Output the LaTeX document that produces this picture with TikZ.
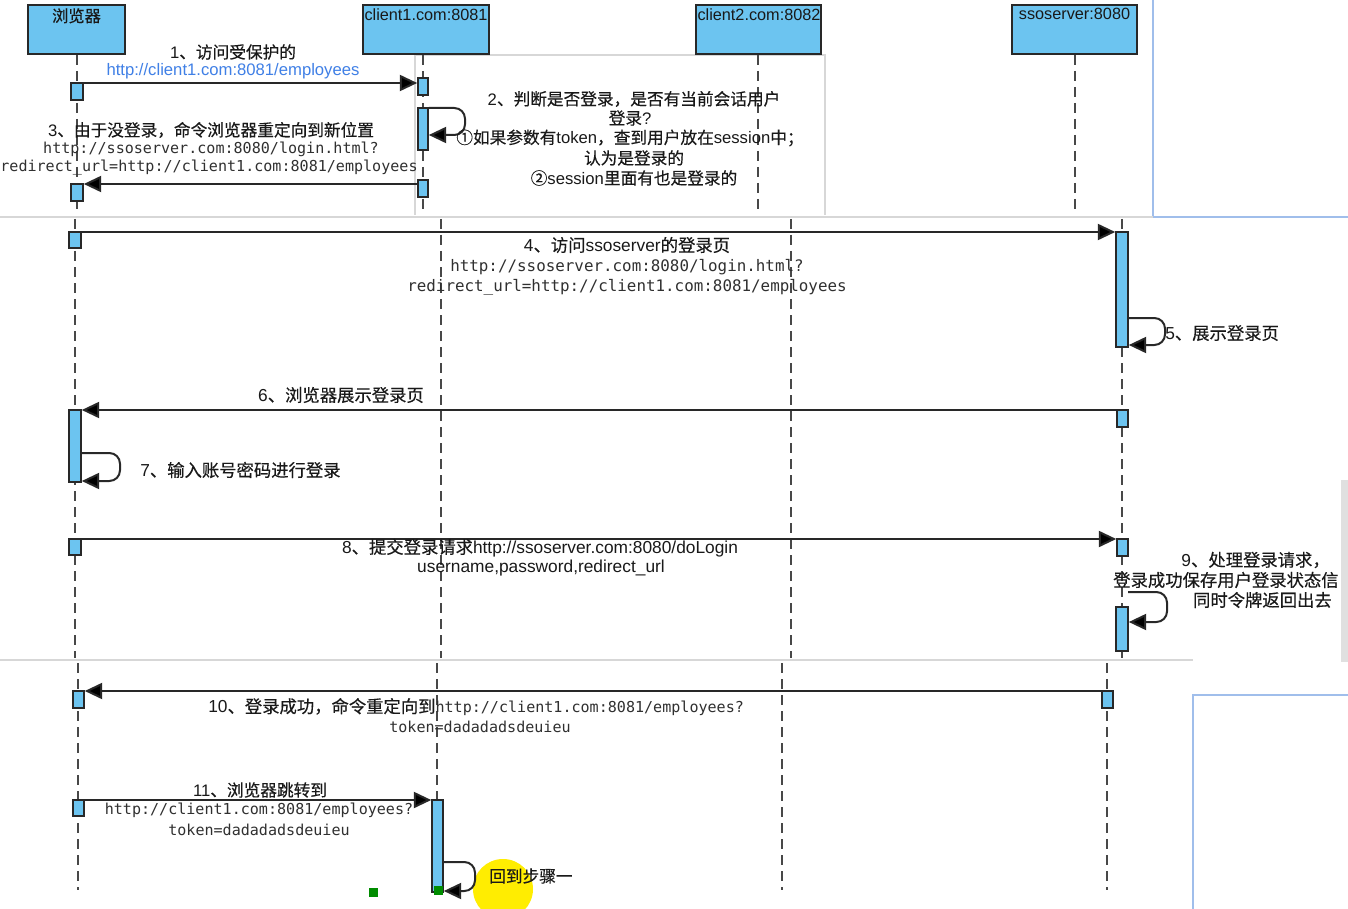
\documentclass[tikz,border=0pt]{standalone}
\usepackage{fontspec}
\setmainfont{Liberation Sans}
\newfontfamily\cjk[FakeBold=0.35]{Noto Sans CJK SC}
\newfontfamily\mono{DejaVu Sans Mono}
\usetikzlibrary{arrows.meta,fit}
\definecolor{lb}{RGB}{108,196,240}
\definecolor{ln}{RGB}{40,40,40}
\definecolor{tx}{RGB}{25,25,25}
\definecolor{urlc}{RGB}{64,128,230}
\definecolor{framec}{RGB}{160,190,235}
\definecolor{shadec}{RGB}{215,215,215}
\begin{document}
\begin{tikzpicture}[x=0.75pt,y=-0.75pt,
  head/.style={draw=ln,line width=1.5pt,fill=lb,inner sep=0pt},
  act/.style={draw=ln,line width=1.2pt,fill=lb,inner sep=0pt},
  life/.style={draw=ln!85,line width=1.2pt,dash pattern=on 7.5pt off 4.5pt},
  msg/.style={draw=ln,line width=1.5pt,-{Triangle[length=13pt,width=12pt,fill=black]}},
  loopm/.style={msg,rounded corners=8pt},
  htxt/.style={font=\fontsize{12.2}{14}\selectfont,text=tx,inner sep=0pt,anchor=north},
  lab/.style={font=\fontsize{12.5}{15}\selectfont,text=tx,inner sep=0pt},
  labb/.style={font=\fontsize{13}{15}\selectfont,text=tx,inner sep=0pt},
  mlab/.style={font=\mono\fontsize{11.3}{14}\selectfont,text=tx!90,inner sep=0pt},
  mlabb/.style={font=\mono\fontsize{11.9}{14}\selectfont,text=tx!90,inner sep=0pt},
]
\useasboundingbox (0,0) rectangle (1348,909);
\fill[white] (0,0) rectangle (1348,909);

% ---------- screenshot panel edges ----------
\draw[shadec,line width=1.5pt] (415,215) -- (415,55) -- (825,55) -- (825,215);
\draw[framec,line width=1.2pt] (1153,0) -- (1153,217) -- (1348,217);
\draw[shadec,line width=2pt] (0,217) -- (1153,217);
\fill[black!12] (1341,480) rectangle (1348,662);
\draw[shadec,line width=2pt] (0,660) -- (1193,660);
\draw[framec,line width=1.2pt] (1193,909) -- (1193,695) -- (1348,695);

% ---------- header boxes ----------
\node[head, fit={(28,5) (125,54)}] (hb) {};
\node[head, fit={(363,5) (489,54)}] (hc1) {};
\node[head, fit={(696,5) (821,54)}] (hc2) {};
\node[head, fit={(1012,5) (1137,54)}] (hs) {};
\node[htxt] (hbt) at (76.5,8) {\cjk 浏览器};
\node[htxt] (hc1t) at (426,8) {client1.com:8081};
\node[htxt] (hc2t) at (759,8) {client2.com:8082};
\node[htxt] (hst) at (1074.5,8) {ssoserver:8080};

% ---------- lifelines ----------
% panel 1
\coordinate (pb1) at (77,215);  \coordinate (pc11) at (423,215);
\coordinate (pc21) at (758,215); \coordinate (ps1) at (1075,215);
\draw[life] (hb.south -| pb1) -- (pb1);
\draw[life] (hc1.south -| pc11) -- (pc11);
\draw[life] (hc2.south -| pc21) -- (pc21);
\draw[life] (hs.south -| ps1) -- (ps1);
% panel 2
\coordinate (qb0) at (75,219);  \coordinate (qb1) at (75,658);
\coordinate (qc10) at (441,219); \coordinate (qc11) at (441,658);
\coordinate (qc20) at (791,219); \coordinate (qc21) at (791,658);
\coordinate (qs0) at (1122,219); \coordinate (qs1) at (1122,658);
\draw[life] (qb0) -- (qb1);
\draw[life] (qc10) -- (qc11);
\draw[life] (qc20) -- (qc21);
\draw[life] (qs0) -- (qs1);
% panel 3
\coordinate (rb0) at (78,663);  \coordinate (rb1) at (78,890);
\coordinate (rc10) at (437,663); \coordinate (rc11) at (437,890);
\coordinate (rc20) at (782,663); \coordinate (rc21) at (782,890);
\coordinate (rs0) at (1107,663); \coordinate (rs1) at (1107,890);
\draw[life] (rb0) -- (rb1);
\draw[life] (rc10) -- (rc11);
\draw[life] (rc20) -- (rc21);
\draw[life] (rs0) -- (rs1);

% ---------- activation boxes ----------
\node[act, fit={(71,83) (83,100)}] (a1) {};
\node[act, fit={(418,78) (428,95)}] (c1a) {};
\node[act, fit={(418,108) (428,150)}] (c1b) {};
\node[act, fit={(418,180) (428,197)}] (c1c) {};
\node[act, fit={(71,184) (83,201)}] (a3) {};

\node[act, fit={(69,232) (81,248)}] (a4) {};
\node[act, fit={(1116,232) (1128,347)}] (s4) {};
\node[act, fit={(1117,410) (1128,427)}] (s6) {};
\node[act, fit={(69,410) (81,482)}] (a6) {};
\node[act, fit={(69,539) (81,555)}] (a8) {};
\node[act, fit={(1117,539) (1128,556)}] (s8) {};
\node[act, fit={(1116,607) (1128,651)}] (s9) {};

\node[act, fit={(1102,691) (1113,708)}] (s10) {};
\node[act, fit={(73,691) (84,708)}] (a10) {};
\node[act, fit={(73,800) (84,816)}] (a11) {};
\node[act, fit={(432,800) (443,892)}] (c11) {};

% ---------- messages ----------
\draw[msg] (a1.east |- 0,83) -- (c1a.west |- 0,83);
\draw[loopm] (c1b.east |- 0,108) -- (465,108) -- (465,135) -- (c1b.east |- 0,135);
\draw[msg] (c1c.west |- 0,184) -- (a3.east |- 0,184);

\draw[msg] (a4.east |- 0,232) -- (s4.west |- 0,232);
\draw[loopm] (s4.east |- 0,318) -- (1165,318) -- (1165,345) -- (s4.east |- 0,345);
\draw[msg] (s6.west |- 0,410) -- (a6.east |- 0,410);
\draw[loopm] (a6.east |- 0,453) -- (120,453) -- (120,481) -- (a6.east |- 0,481);
\draw[msg] (a8.east |- 0,539) -- (s8.west |- 0,539);
\coordinate (l9s) at (1128,592);
\draw[loopm] (l9s) -- (1167,592) -- (1167,622) -- (s9.east |- 0,622);

\draw[msg] (s10.west |- 0,691) -- (a10.east |- 0,691);
\draw[msg] (a11.east |- 0,800) -- (c11.west |- 0,800);
\fill[yellow!95!orange] (503,889) circle[radius=22.5pt];
\draw[loopm] (c11.east |- 0,862) -- (475,862) -- (475,891) -- (c11.east |- 0,891);
\fill[green!55!black] (369,888) rectangle (378,897);
\fill[green!55!black] (434,886) rectangle (443,895);

% ---------- labels: panel 1 ----------
\node[lab] (t1) at (233,52) {1{\cjk 、访问受保护的}};
\node[lab,text=urlc] (t1u) at (233,71) {http://client1.com:8081/employees};
\node[lab] (t2a) at (634,99) {2{\cjk 、判断是否登录，是否有当前会话用户}};
\node[lab] (t2b) at (630,118) {{\cjk 登录}?};
\node[lab] (t2c) at (630,138) {{\cjk ①如果参数有}token{\cjk ，查到用户放在}session{\cjk 中；}};
\node[lab] (t2d) at (634,158) {\cjk 认为是登录的};
\node[lab] (t2e) at (634,178) {{\cjk ②}session{\cjk 里面有也是登录的}};
\node[lab] (t3a) at (211,130) {3{\cjk 、由于没登录，命令浏览器重定向到新位置}};
\node[mlab] (t3b) at (211,149) {http://ssoserver.com:8080/login.html?};
\node[mlab] (t3c) at (209,168) {redirect\_url=http://client1.com:8081/employees};

% ---------- labels: panel 2 ----------
\node[labb] (t4a) at (627,245) {4{\cjk 、访问}ssoserver{\cjk 的登录页}};
\node[mlabb] (t4b) at (627,267) {http://ssoserver.com:8080/login.html?};
\node[mlabb] (t4c) at (627,287) {redirect\_url=http://client1.com:8081/employees};
\node[labb,anchor=west] (t5) at (1165,333) {5{\cjk 、展示登录页}};
\node[labb] (t6) at (341,395) {6{\cjk 、浏览器展示登录页}};
\node[labb,anchor=west] (t7) at (140,470) {7{\cjk 、输入账号密码进行登录}};
\node[labb] (t8a) at (540,548) {8{\cjk 、提交登录请求}http://ssoserver.com:8080/doLogin};
\node[labb] (t8b) at (541,568) {username,password,redirect\_url};
\node[labb,anchor=east] (t9a) at (1330,560) {9{\cjk 、处理登录请求，}};
\node[labb,anchor=west] (t9b) at (1113,580) {\cjk 登录成功保存用户登录状态信};
\node[labb,anchor=east] (t9c) at (1332,600) {\cjk 同时令牌返回出去};

% ---------- labels: panel 3 ----------
\node[labb,anchor=west] (t10a) at (208,707) {10{\cjk 、登录成功，命令重定向到}{\mono\fontsize{11.3}{14}\selectfont\color{tx!90}http://client1.com:8081/employees?}};
\node[mlab] (t10b) at (480,727) {token=dadadadsdeuieu};
\node[lab] (t11a) at (260,790) {11{\cjk 、浏览器跳转到}};
\node[mlab] (t11b) at (259,810) {http://client1.com:8081/employees?};
\node[mlab] (t11c) at (259,830) {token=dadadadsdeuieu};
\node[lab,anchor=west] (t12) at (489,876) {\cjk 回到步骤一};
\end{tikzpicture}
\end{document}
